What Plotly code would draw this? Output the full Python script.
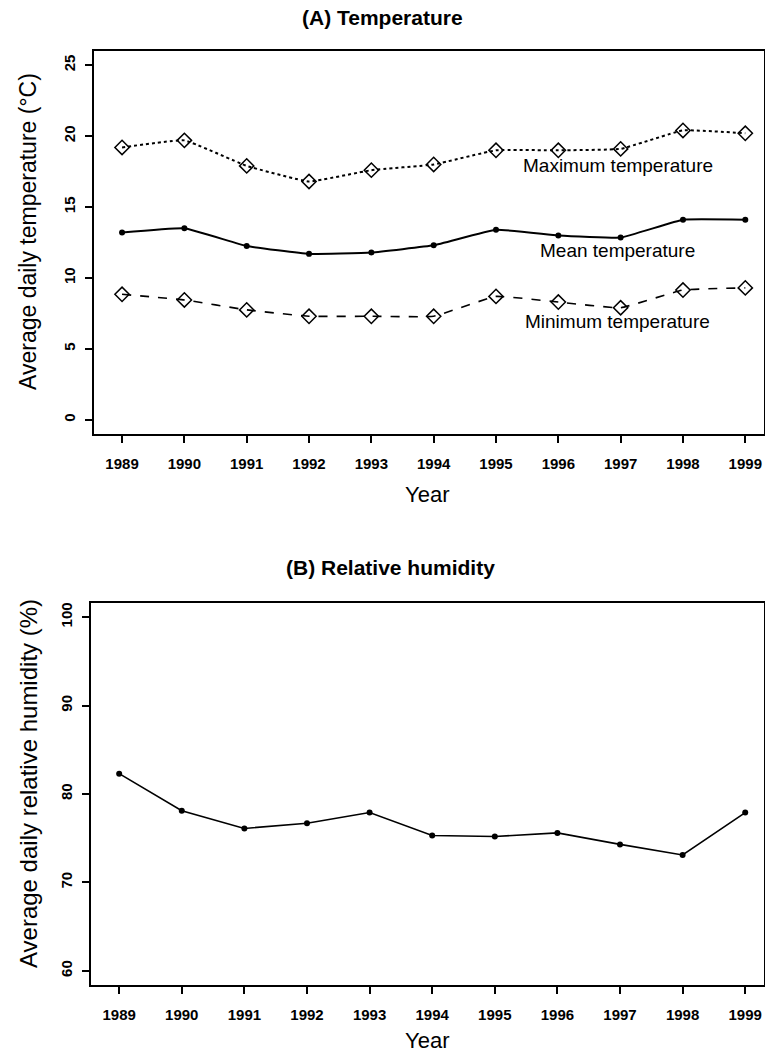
import plotly.graph_objects as go

# data
years = [1989, 1990, 1991, 1992, 1993, 1994, 1995, 1996, 1997, 1998, 1999]
max_temp = [19.2, 19.7, 17.9, 16.8, 17.6, 18.0, 19.0, 19.0, 19.1, 20.4, 20.2]
mean_temp = [13.2, 13.5, 12.25, 11.7, 11.8, 12.3, 13.4, 13.0, 12.85, 14.1, 14.1]
min_temp = [8.85, 8.45, 7.75, 7.3, 7.3, 7.3, 8.7, 8.3, 7.9, 9.15, 9.3]
humidity = [82.3, 78.1, 76.1, 76.7, 77.9, 75.3, 75.2, 75.6, 74.3, 73.1, 77.9]

temp_ticks = [0, 5, 10, 15, 20, 25]
hum_ticks = [60, 70, 80, 90, 100]

W, H = 765, 1057
NARROW = "Liberation Sans Narrow, Arial Narrow, Liberation Sans, Arial"
SANS = "Liberation Sans, Arial, sans-serif"

fig = go.Figure()

# (A) temperature
fig.add_trace(go.Scatter(x=years, y=max_temp, mode="lines+markers",
                         line=dict(color="black", width=2, dash="dot", shape="spline", smoothing=0.3),
                         marker=dict(symbol="diamond-open", size=11, color="black", line=dict(width=1.5)),
                         xaxis="x", yaxis="y"))
fig.add_trace(go.Scatter(x=years, y=mean_temp, mode="lines+markers",
                         line=dict(color="black", width=2, shape="spline", smoothing=0.3),
                         marker=dict(symbol="circle", size=6, color="black"),
                         xaxis="x", yaxis="y"))
fig.add_trace(go.Scatter(x=years, y=min_temp, mode="lines+markers",
                         line=dict(color="black", width=1.6, dash="dash", shape="spline", smoothing=0.3),
                         marker=dict(symbol="diamond-open", size=11, color="black", line=dict(width=1.5)),
                         xaxis="x", yaxis="y"))

# (B) humidity
fig.add_trace(go.Scatter(x=years, y=humidity, mode="lines+markers",
                         line=dict(color="black", width=1.6),
                         marker=dict(symbol="circle", size=6, color="black"),
                         xaxis="x2", yaxis="y2"))

axis_common = dict(showgrid=False, zeroline=False, showline=True, linecolor="black",
                   linewidth=2, mirror=True, ticks="outside", tickcolor="black",
                   tickwidth=1.5)

xcommon = dict(axis_common, tickvals=years, range=[1988.55, 1999.3], ticklen=7,
               ticklabelstandoff=8,
               tickfont=dict(family=NARROW, size=15, color="black", weight="bold"))
ycommon = dict(axis_common, ticklen=7, tickangle=-90, ticklabelstandoff=4,
               tickfont=dict(family=NARROW, size=15, color="black", weight="bold"))

fig.update_layout(
    width=W, height=H,
    margin=dict(l=0, r=0, t=0, b=0),
    paper_bgcolor="white", plot_bgcolor="white",
    showlegend=False,
    xaxis=dict(xcommon, domain=[94 / W, 764 / W], anchor="y"),
    yaxis=dict(ycommon, domain=[1 - 434 / H, 1 - 51 / H], range=[-1, 26],
               tickvals=temp_ticks, anchor="x"),
    xaxis2=dict(xcommon, domain=[91 / W, 764 / W], anchor="y2"),
    yaxis2=dict(ycommon, domain=[1 - 985 / H, 1 - 603 / H], range=[58.4, 101.6],
                tickvals=hum_ticks, anchor="x2"),
)

notes = [
    dict(text="Maximum temperature", x=1996.95, y=17.95, xref="x", yref="y"),
    dict(text="Mean temperature", x=1996.95, y=11.95, xref="x", yref="y"),
    dict(text="Minimum temperature", x=1996.95, y=6.9, xref="x", yref="y"),
]
for n in notes:
    fig.add_annotation(n, showarrow=False, xanchor="center", yanchor="middle",
                       font=dict(family=NARROW, size=19, color="black"))

# titles and axis labels
labels = [
    dict(text="<b>(A) Temperature</b>", x=382, y=18, size=21, angle=0),
    dict(text="<b>(B) Relative humidity</b>", x=390, y=567, size=21, angle=0),
    dict(text="Average daily temperature (°C)", x=28, y=232, size=23, angle=-90),
    dict(text="Average daily relative humidity (%)", x=28, y=784, size=24, angle=-90),
    dict(text="Year", x=427, y=494, size=22, angle=0),
    dict(text="Year", x=427, y=1040, size=22, angle=0),
]
for lb in labels:
    fig.add_annotation(text=lb["text"], x=lb["x"] / W, y=1 - lb["y"] / H, xref="paper", yref="paper",
                       xanchor="center", yanchor="middle", textangle=lb["angle"], showarrow=False,
                       font=dict(family=SANS, size=lb["size"], color="black"))

# drop the browser's default body margin so the figure sits at the page corner
fig.write_html("out.html", config={"displayModeBar": False},
               post_script="document.body.style.margin='0';")
